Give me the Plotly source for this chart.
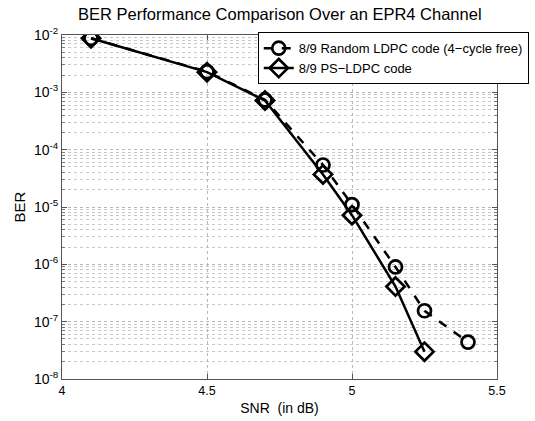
import plotly.graph_objects as go

snr_random = [4.1, 4.5, 4.7, 4.9, 5.0, 5.15, 5.25, 5.4]
ber_random = [8.75e-3, 2.3e-3, 7.4e-4, 5.4e-5, 1.1e-5, 9.0e-7, 1.55e-7, 4.4e-8]
snr_ps = [4.1, 4.5, 4.7, 4.9, 5.0, 5.15, 5.25]
ber_ps = [8.75e-3, 2.25e-3, 7.2e-4, 3.7e-5, 7.2e-6, 4.1e-7, 3.0e-8]

name_random = "8/9 Random LDPC code (4\u2212cycle free)"
name_ps = "8/9 PS\u2212LDPC code"

x_ticks = [4, 4.5, 5, 5.5]
x_ticktext = ["4", "4.5", "5", "5.5"]
y_ticks = [1e-2, 1e-3, 1e-4, 1e-5, 1e-6, 1e-7, 1e-8]
y_ticktext = ["10<sup>-2</sup>", "10<sup>-3</sup>", "10<sup>-4</sup>", "10<sup>-5</sup>",
              "10<sup>-6</sup>", "10<sup>-7</sup>", "10<sup>-8</sup>"]

FONT = "Arial, Liberation Sans, sans-serif"

fig = go.Figure()
fig.add_trace(go.Scatter(
    x=snr_random, y=ber_random, name=name_random, mode="lines+markers",
    line=dict(color="black", width=2.5, dash="dash"),
    marker=dict(symbol="circle-open", size=13, color="black", line=dict(width=2.7, color="black")),
))
fig.add_trace(go.Scatter(
    x=snr_ps, y=ber_ps, name=name_ps, mode="lines+markers",
    line=dict(color="black", width=2.5),
    marker=dict(symbol="diamond-open", size=14, color="black", line=dict(width=2.7, color="black")),
))

grid = dict(gridcolor="#b8b8b8", griddash="dot", gridwidth=1)
fig.update_layout(
    width=535, height=421,
    margin=dict(l=62, r=38, t=35, b=42, autoexpand=False),
    paper_bgcolor="white", plot_bgcolor="white",
    font=dict(family=FONT, size=13, color="black"),
    title=dict(text="BER Performance Comparison Over an EPR4 Channel", x=0.523, xanchor="center",
               y=0.967, yanchor="middle", font=dict(size=16.5, family=FONT, color="black")),
    showlegend=True,
    legend=dict(x=0.45, xanchor="left", y=1.008, yanchor="top", bgcolor="white",
                bordercolor="black", borderwidth=1, font=dict(size=13, family=FONT),
                tracegroupgap=0, itemwidth=30),
    xaxis=dict(range=[4, 5.5], tickvals=x_ticks, ticktext=x_ticktext, showline=True, mirror="allticks",
               linecolor="#555555", linewidth=1, ticks="inside", ticklen=5, tickcolor="#555555",
               tickfont=dict(size=12.5),
               zeroline=False, title=dict(text="SNR  (in dB)", standoff=6, font=dict(size=14)),
               **grid),
    yaxis=dict(type="log", range=[-8, -2], tickvals=y_ticks, ticktext=y_ticktext, showline=True,
               mirror="allticks", linecolor="#555555", linewidth=1, ticks="inside", ticklen=5,
               tickcolor="#555555", zeroline=False, tickfont=dict(size=14),
               title=dict(text="BER", standoff=4, font=dict(size=15)),
               minor=dict(showgrid=True, gridcolor="#c8c8c8", griddash="dot", ticks="inside",
                          ticklen=3, tickcolor="#777777", dtick="D1"),
               **grid),
)

fig.write_html("out.html", config={"displayModeBar": False},
               post_script="document.body.style.margin='0';")
